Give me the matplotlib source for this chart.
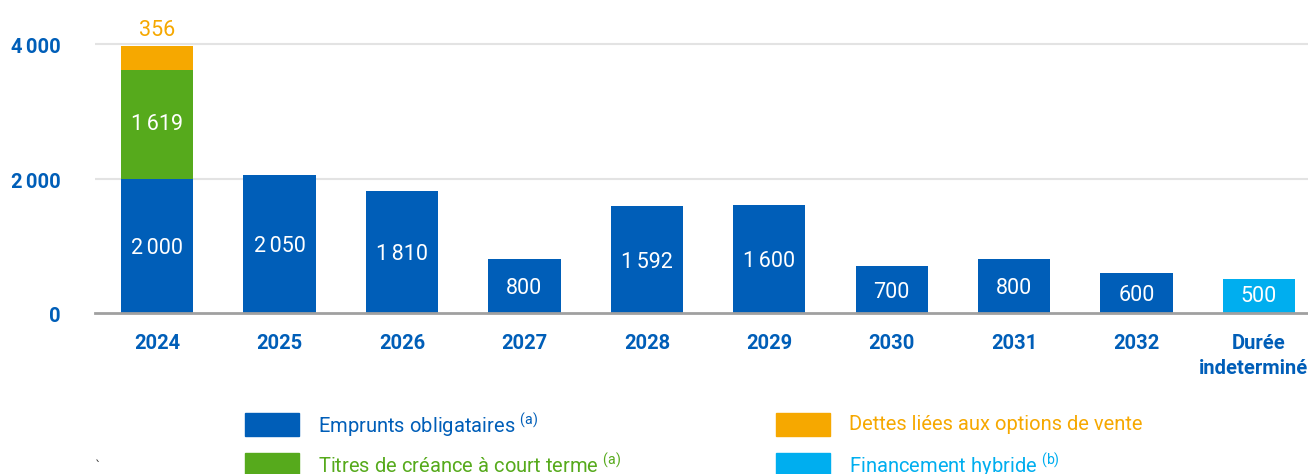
import matplotlib
matplotlib.use("Agg")
import matplotlib.pyplot as plt
from matplotlib.patches import Rectangle

categories = ["2024", "2025", "2026", "2027", "2028", "2029", "2030", "2031", "2032", "Durée\nindeterminée"]
emprunts = [2000, 2050, 1810, 800, 1592, 1600, 700, 800, 600, 0]
titres = [1619, 0, 0, 0, 0, 0, 0, 0, 0, 0]
dettes = [356, 0, 0, 0, 0, 0, 0, 0, 0, 0]
hybride = [0, 0, 0, 0, 0, 0, 0, 0, 0, 500]
yticks = [0, 2000, 4000]
ytick_labels = ["0", "2\u2006000", "4\u2006000"]
series_names = ["Emprunts obligataires", "Titres de créance à court terme",
                "Dettes liées aux options de vente", "Financement hybride"]
series_notes = ["(a)", "(a)", "", "(b)"]

C_BLUE = "#005EB8"
C_GREEN = "#56AA1C"
C_ORANGE = "#F6A800"
C_LBLUE = "#00AEEF"
colors = [C_BLUE, C_GREEN, C_ORANGE, C_LBLUE]

def fmt(v):
    return f"{v:,}".replace(",", "\u2006")

W, H = 1308, 474
SCALE = 0.0672  # px per unit
fig = plt.figure(figsize=(W / 100, H / 100), dpi=100)
ax = fig.add_axes([95 / W, 1 - 313 / H, 1 - 95 / W, 313 / H])

x = list(range(len(categories)))
bw = 0.59
ax.bar(x, emprunts, bw, color=C_BLUE, zorder=3)
ax.bar(x, titres, bw, bottom=emprunts, color=C_GREEN, zorder=3)
bottom3 = [a + b for a, b in zip(emprunts, titres)]
ax.bar(x, dettes, bw, bottom=bottom3, color=C_ORANGE, zorder=3)
ax.bar(x, hybride, bw, color=C_LBLUE, zorder=3)

num_family = ["Roboto", "DejaVu Sans"]
lab_font = dict(family=num_family, fontsize=15.5, color="white", ha="center", va="center")
for i in x:
    if emprunts[i]:
        ax.text(i, emprunts[i] / 2 - 40, fmt(emprunts[i]), **lab_font, zorder=4)
    if titres[i]:
        ax.text(i, emprunts[i] + titres[i] / 2, fmt(titres[i]), **lab_font, zorder=4)
    if dettes[i]:
        ax.text(i, bottom3[i] + dettes[i] + 80, fmt(dettes[i]),
                family=num_family, fontsize=15.5, color=C_ORANGE,
                ha="center", va="bottom", zorder=4)
    if hybride[i]:
        ax.text(i, hybride[i] / 2, fmt(hybride[i]), **lab_font, zorder=4)

ax.set_xlim(-0.507, 9.40)
ax.set_ylim(0, 313 / SCALE)
ax.set_yticks([])
for yv in yticks[1:]:
    ax.axhline(yv, color="#E3E3E3", linewidth=1.5, zorder=0)
for s in ["top", "right", "left"]:
    ax.spines[s].set_visible(False)
ax.spines["bottom"].set_color("#A0A0A0")
ax.spines["bottom"].set_linewidth(2)
ax.spines["bottom"].set_zorder(5)

tick_font = dict(family=["Roboto", "DejaVu Sans"], fontsize=14.5, fontweight="bold", color=C_BLUE)
ax.set_xticks(x)
ax.set_xticklabels(categories, linespacing=1.4, **tick_font)
ax.tick_params(axis="x", length=0, pad=15)
for yv, yl in zip(yticks, ytick_labels):
    ax.text(-0.787, yv - 55, yl, ha="right", va="center", clip_on=False, **tick_font)

# legend
leg_font = ["Roboto", "DejaVu Sans"]
pos = [(245, 413), (245, 453), (776, 413), (776, 453)]
for (px, py), name, note, c in zip(pos, series_names, series_notes, colors):
    fig.add_artist(Rectangle((px / W, 1 - (py + 23) / H), 54 / W, 23 / H,
                             transform=fig.transFigure, color=c))
    label = name + (r" $^{\mathregular{" + note + "}}$" if note else "")
    fig.text((px + 73) / W, 1 - (py + 12) / H, label, family=leg_font,
             fontsize=14.5, color=c, va="center", ha="left")

fig.text(95 / W, 1 - 466 / H, "`", fontsize=9, color="#333333", va="center")

fig.savefig("out.png", dpi=100)
